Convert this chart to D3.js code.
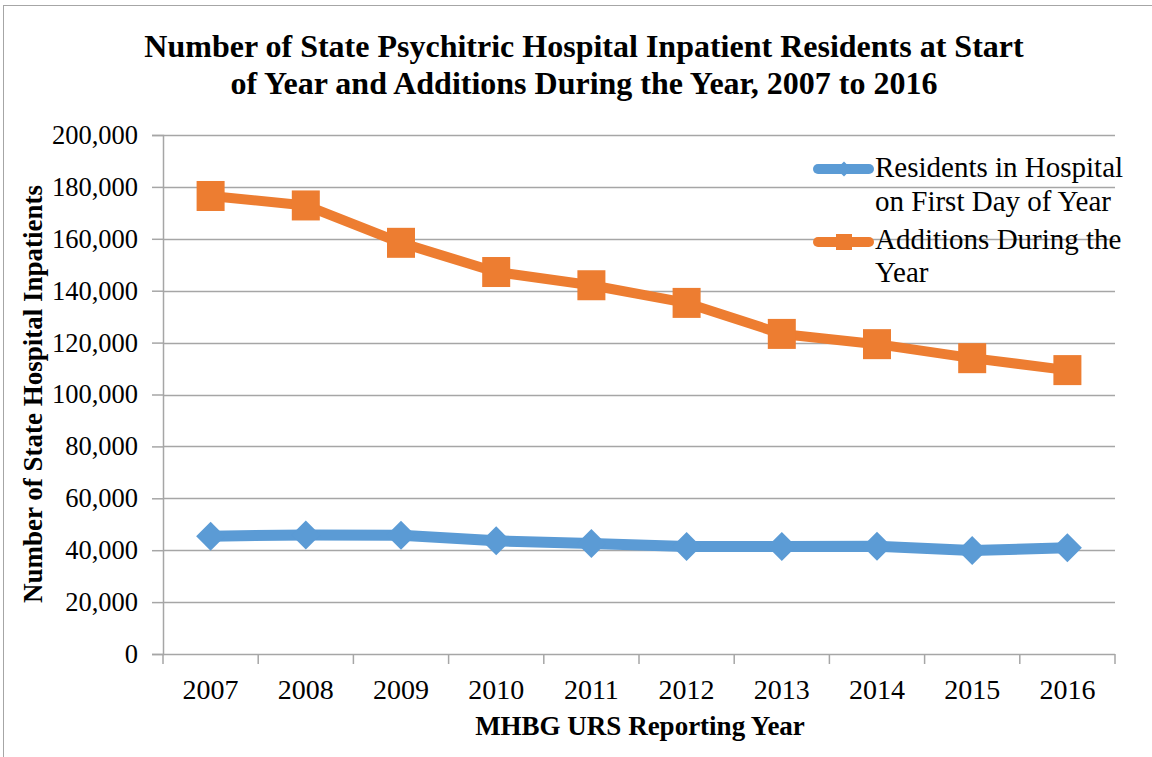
<!DOCTYPE html>
<html>
<head>
<meta charset="utf-8">
<script src="https://cdn.jsdelivr.net/npm/d3@7"></script>
<style>
  body { margin: 0; background: #fff; }
  text { font-family: "Liberation Serif", "Times New Roman", serif; fill: #000; }
</style>
</head>
<body>
<div id="chart"></div>
<script>
// data
var years = ["2007", "2008", "2009", "2010", "2011", "2012", "2013", "2014", "2015", "2016"];
var residents = [45400, 45900, 45750, 43600, 42550, 41400, 41400, 41500, 39900, 40900];
var additions = [176500, 172850, 158450, 147200, 142100, 135300, 123350, 119400, 114000, 109400];
var yTicks = [0, 20000, 40000, 60000, 80000, 100000, 120000, 140000, 160000, 180000, 200000];
var seriesNames = [["Residents in Hospital", "on First Day of Year"], ["Additions During the", "Year"]];

var W = 1152, H = 757;
var margin = {top: 135, right: 37, bottom: 103, left: 163};
var width = W - margin.left - margin.right,
    height = H - margin.top - margin.bottom;

var svg = d3.select("#chart")
  .append("svg")
    .attr("width", W)
    .attr("height", H);

// outer chart border (cropped on right and bottom)
svg.append("rect")
  .attr("x", 3.5).attr("y", 5.5)
  .attr("width", W + 10).attr("height", H + 10)
  .attr("fill", "none")
  .attr("stroke", "#a6a6a6")
  .attr("stroke-width", 1);

// title
var title = svg.append("text")
  .attr("text-anchor", "middle")
  .style("font-weight", "bold")
  .style("font-size", "32px");
title.append("tspan").attr("x", 584).attr("y", 57)
  .text("Number of State Psychitric Hospital Inpatient Residents at Start");
title.append("tspan").attr("x", 584).attr("y", 94)
  .text("of Year and Additions During the Year, 2007 to 2016");

var g = svg.append("g")
  .attr("transform", "translate(" + margin.left + "," + margin.top + ")");

var x = d3.scaleBand()
  .domain(years)
  .range([0, width]);

var y = d3.scaleLinear()
  .domain([0, 200000])
  .range([height, 0]);

// gridlines
g.append("g")
  .selectAll("line")
  .data(yTicks.filter(function(d) { return d > 0; }))
  .enter()
  .append("line")
    .attr("x1", 0).attr("x2", width)
    .attr("y1", function(d) { return Math.round(y(d)) + 0.5; })
    .attr("y2", function(d) { return Math.round(y(d)) + 0.5; })
    .attr("stroke", "#a6a6a6")
    .attr("stroke-width", 1.5);

// Y axis
var yAxis = g.append("g")
  .call(d3.axisLeft(y).tickValues(yTicks).tickSize(11).tickPadding(14)
    .tickFormat(d3.format(",")));
yAxis.select(".domain").attr("stroke", "#a6a6a6").attr("stroke-width", 1.5);
yAxis.selectAll(".tick line").attr("stroke", "#a6a6a6").attr("stroke-width", 1.5);
yAxis.selectAll("text")
  .style("font-size", "26.5px")
  .attr("fill", "#000");

// X axis, ticks at band edges
var xAxisG = g.append("g")
  .attr("transform", "translate(0," + height + ")");
xAxisG.append("line")
  .attr("x1", 0).attr("x2", width)
  .attr("y1", 0.5).attr("y2", 0.5)
  .attr("stroke", "#a6a6a6").attr("stroke-width", 1.5);
xAxisG.selectAll(".edge")
  .data(years.concat(["end"]))
  .enter()
  .append("line")
    .attr("x1", function(d, i) { return i < years.length ? x(d) : width; })
    .attr("x2", function(d, i) { return i < years.length ? x(d) : width; })
    .attr("y1", 0).attr("y2", 10)
    .attr("stroke", "#a6a6a6").attr("stroke-width", 1.5);
xAxisG.selectAll(".lbl")
  .data(years)
  .enter()
  .append("text")
    .attr("x", function(d) { return x(d) + x.bandwidth() / 2; })
    .attr("y", 45)
    .attr("text-anchor", "middle")
    .style("font-size", "28px")
    .text(function(d) { return d; });

// axis titles
svg.append("text")
  .attr("x", 640).attr("y", 735)
  .attr("text-anchor", "middle")
  .style("font-weight", "bold")
  .style("font-size", "27px")
  .text("MHBG URS Reporting Year");

svg.append("text")
  .attr("transform", "translate(42,394) rotate(-90)")
  .attr("text-anchor", "middle")
  .style("font-weight", "bold")
  .style("font-size", "27px")
  .text("Number of State Hospital Inpatients");

var cx = function(d, i) { return x(years[i]) + x.bandwidth() / 2; };

var line = d3.line()
  .x(function(d, i) { return cx(d, i); })
  .y(function(d) { return y(d); });

// Additions series (orange, squares)
g.append("path")
  .datum(additions)
  .attr("fill", "none")
  .attr("stroke", "#ed7d31")
  .attr("stroke-width", 10)
  .attr("stroke-linejoin", "round")
  .attr("d", line);
g.selectAll(".sq")
  .data(additions)
  .enter()
  .append("rect")
    .attr("x", function(d, i) { return cx(d, i) - 14; })
    .attr("y", function(d) { return y(d) - 15; })
    .attr("width", 28)
    .attr("height", 30)
    .attr("fill", "#ed7d31");

// Residents series (blue, diamonds)
g.append("path")
  .datum(residents)
  .attr("fill", "none")
  .attr("stroke", "#5b9bd5")
  .attr("stroke-width", 11)
  .attr("stroke-linejoin", "round")
  .attr("d", line);
var diamond = d3.symbol().type(d3.symbolSquare).size(420);
g.selectAll(".dm")
  .data(residents)
  .enter()
  .append("path")
    .attr("d", diamond)
    .attr("transform", function(d, i) {
      return "translate(" + cx(d, i) + "," + y(d) + ") rotate(45)";
    })
    .attr("fill", "#5b9bd5");

// legend
var legend = svg.append("g");
var legendRows = [
  {color: "#5b9bd5", y: 169, textY: [177, 211], marker: "diamond"},
  {color: "#ed7d31", y: 242, textY: [249, 282], marker: "square"}
];
legendRows.forEach(function(r, k) {
  legend.append("line")
    .attr("x1", 818).attr("x2", 869)
    .attr("y1", r.y).attr("y2", r.y)
    .attr("stroke", r.color)
    .attr("stroke-width", 10)
    .attr("stroke-linecap", "round");
  if (r.marker === "diamond") {
    legend.append("path")
      .attr("d", d3.symbol().type(d3.symbolSquare).size(110))
      .attr("transform", "translate(844," + r.y + ") rotate(45)")
      .attr("fill", r.color);
  } else {
    legend.append("rect")
      .attr("x", 836).attr("y", r.y - 8)
      .attr("width", 16).attr("height", 16)
      .attr("fill", r.color);
  }
  seriesNames[k].forEach(function(t, j) {
    legend.append("text")
      .attr("x", 875).attr("y", r.textY[j])
      .style("font-size", "29px")
      .text(t);
  });
});
</script>
</body>
</html>
